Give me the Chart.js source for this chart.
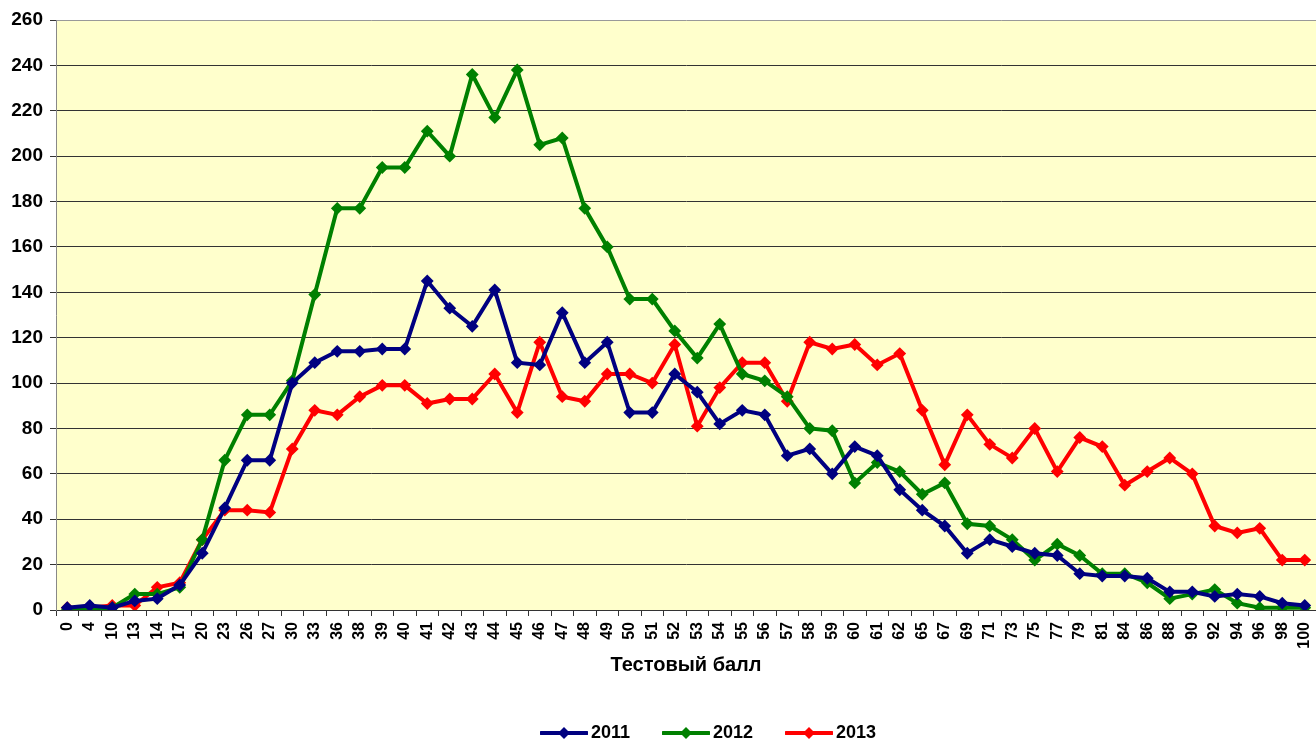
<!DOCTYPE html>
<html>
<head>
<meta charset="utf-8">
<script src="https://cdn.jsdelivr.net/npm/chart.js@4"></script>
<style>
  html, body { margin: 0; padding: 0; background: #fff; overflow: hidden; }
  #wrap { position: relative; width: 1323px; height: 744px; }
  #legend {
    position: absolute; left: 0; width: 1316px; top: 722px;
    display: flex; justify-content: center; padding-left: 100px; box-sizing: border-box;
    font: bold 18px "Liberation Sans", Arial, sans-serif; color: #000;
  }
  .item { display: flex; align-items: center; margin: 0 16px; }
  .item svg { margin-right: 3px; }
</style>
</head>
<body>
<div id="wrap">
  <canvas id="myChart"></canvas>
  <div id="legend"></div>
</div>
<script>
// Test score categories
var scores = ["0", "4", "10", "13", "14", "17", "20", "23", "26", "27",
  "30", "33", "36", "38", "39", "40", "41", "42", "43", "44",
  "45", "46", "47", "48", "49", "50", "51", "52", "53", "54",
  "55", "56", "57", "58", "59", "60", "61", "62", "65", "67",
  "69", "71", "73", "75", "77", "79", "81", "84", "86", "88",
  "90", "92", "94", "96", "98", "100"];

var y2011 = [1, 2, 1, 4, 5, 11, 25, 45, 66, 66,
  100, 109, 114, 114, 115, 115, 145, 133, 125, 141,
  109, 108, 131, 109, 118, 87, 87, 104, 96, 82,
  88, 86, 68, 71, 60, 72, 68, 53, 44, 37,
  25, 31, 28, 25, 24, 16, 15, 15, 14, 8,
  8, 6, 7, 6, 3, 2];

var y2012 = [0, 0, 1, 7, 7, 10, 31, 66, 86, 86,
  101, 139, 177, 177, 195, 195, 211, 200, 236, 217,
  238, 205, 208, 177, 160, 137, 137, 123, 111, 126,
  104, 101, 94, 80, 79, 56, 65, 61, 51, 56,
  38, 37, 31, 22, 29, 24, 16, 16, 12, 5,
  7, 9, 3, 1, 1, 1];

var y2013 = [1, 1, 2, 2, 10, 12, 31, 44, 44, 43,
  71, 88, 86, 94, 99, 99, 91, 93, 93, 104,
  87, 118, 94, 92, 104, 104, 100, 117, 81, 98,
  109, 109, 92, 118, 115, 117, 108, 113, 88, 64,
  86, 73, 67, 80, 61, 76, 72, 55, 61, 67,
  60, 37, 34, 36, 22, 22];

var seriesNames = ["2011", "2012", "2013"];
var seriesColors = ["#000080", "#008000", "#FF0000"];
var seriesData = [y2011, y2012, y2013];

var legend = document.getElementById("legend");

var datasets = seriesNames.map(function (name, i) {
  return {
    label: name,
    data: seriesData[i],
    borderColor: seriesColors[i],
    backgroundColor: seriesColors[i],
    borderWidth: 4,
    pointStyle: "rectRot",
    pointRadius: 5,
    pointBorderWidth: 2,
    pointBackgroundColor: seriesColors[i],
    pointBorderColor: seriesColors[i],
    tension: 0
  };
});

// plot background
var plotBg = {
  id: "plotBg",
  beforeDraw: function (chart) {
    var a = chart.chartArea, ctx = chart.ctx;
    ctx.save();
    ctx.fillStyle = "#FFFFCC";
    ctx.fillRect(a.left, a.top, a.right - a.left, a.bottom - a.top);
    ctx.restore();
  }
};

new Chart("myChart", {
  type: "line",
  data: { labels: scores, datasets: datasets },
  plugins: [plotBg],
  options: {
    responsive: true,
    maintainAspectRatio: false,
    animation: false,
    layout: { padding: { top: 20, right: 0, bottom: 64, left: 0 } },
    plugins: { legend: { display: false }, tooltip: { enabled: false } },
    scales: {
      x: {
        offset: true,
        afterFit: function (s) { s.height = 70; s.paddingLeft = 0; s.paddingRight = 0; },
        grid: { offset: true, drawOnChartArea: false, drawTicks: true, tickLength: 6, color: "#333" },
        border: { display: true, color: "#333" },
        ticks: {
          autoSkip: false, maxRotation: 90, minRotation: 90, padding: 6,
          color: "#000",
          font: { family: "'Liberation Sans', Arial, sans-serif", size: 16, weight: "bold" }
        },
        title: {
          display: true, text: "Тестовый балл", color: "#000",
          padding: { top: 0, bottom: 3 },
          font: { family: "'Liberation Sans', Arial, sans-serif", size: 20, weight: "bold" }
        }
      },
      y: {
        min: 0, max: 260,
        afterFit: function (s) { s.width = 56; },
        grid: {
          color: function (c) { return c.tick && c.tick.value === 260 ? "#999" : "#333"; },
          tickColor: "#333", tickLength: 6, lineWidth: 1
        },
        border: { display: true, color: "#888" },
        ticks: {
          stepSize: 20, padding: 7, color: "#000",
          font: { family: "'Liberation Sans', Arial, sans-serif", size: 19, weight: "bold" }
        }
      }
    }
  }
});

// legend: line with diamond marker + year
seriesNames.forEach(function (name, i) {
  var item = document.createElement("div");
  item.className = "item";
  item.innerHTML =
    '<svg width="48" height="14" viewBox="0 0 48 14">' +
    '<line x1="1" y1="7" x2="47" y2="7" stroke="' + seriesColors[i] + '" stroke-width="4" stroke-linecap="round"/>' +
    '<polygon points="24,1 30,7 24,13 18,7" fill="' + seriesColors[i] + '"/></svg>' +
    '<span>' + name + '</span>';
  legend.appendChild(item);
});
</script>
</body>
</html>
